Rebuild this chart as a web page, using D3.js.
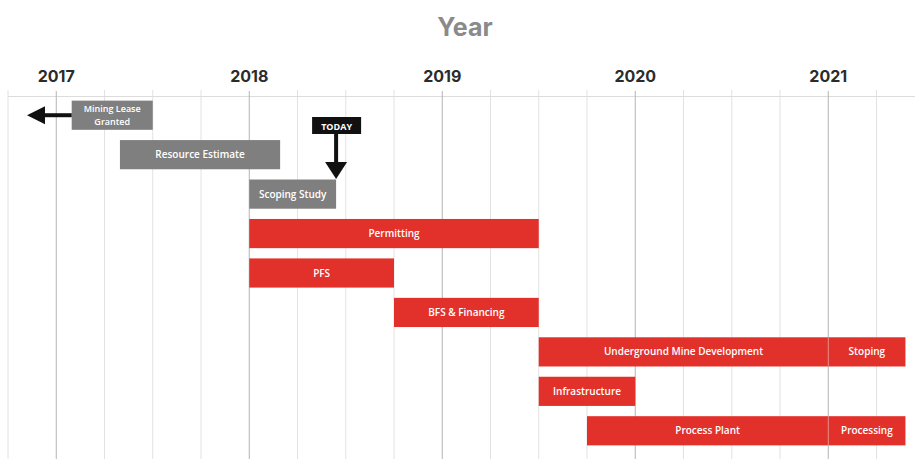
<!DOCTYPE html>
<html>
<head>
<meta charset="utf-8">
<script src="https://cdn.jsdelivr.net/npm/d3@7"></script>
<style>
  html, body { margin: 0; padding: 0; background: #fff; }
  svg { display: block; }
</style>
</head>
<body>
<script>
const width = 915
const height = 459

// data (decimal years)
const years = [2017, 2018, 2019, 2020, 2021]
const taskNames = [
  'Mining Lease Granted', 'Resource Estimate', 'Scoping Study', 'Permitting', 'PFS',
  'BFS & Financing', 'Underground Mine Development', 'Stoping', 'Infrastructure',
  'Process Plant', 'Processing'
]
const taskRows = [0, 1, 2, 3, 4, 5, 6, 6, 7, 8, 8]
const taskStarts = [2017.08, 2017.33, 2018.0, 2018.0, 2018.0, 2018.75, 2019.5, 2021.0, 2019.5, 2019.75, 2021.0]
const taskEnds = [2017.5, 2018.16, 2018.45, 2019.5, 2018.75, 2019.5, 2021.0, 2021.4, 2020.0, 2021.0, 2021.4]
const taskStatus = ['done', 'done', 'done', 'plan', 'plan', 'plan', 'plan', 'plan', 'plan', 'plan', 'plan']
const today = 2018.45

const colors = { done: '#7f7f7f', plan: '#e2312a' }

const tasks = taskNames.map(function (name, i) {
  return { name: name, row: taskRows[i], start: taskStarts[i], end: taskEnds[i], status: taskStatus[i] }
})

const x = d3.scaleLinear().domain([2016.75, 2021.45]).range([8, 915.1])
const y = d3.scaleBand()
  .domain(d3.range(9))
  .range([95.5, 450.5])
  .paddingInner(0.26)
  .paddingOuter(0.13)

const svg = d3.select('body').append('svg')
  .attr('width', width)
  .attr('height', height)

// title
svg.append('text')
  .attr('x', 465).attr('y', 36)
  .attr('text-anchor', 'middle')
  .attr('font-family', 'Inter, "Open Sans", sans-serif')
  .attr('font-weight', 700)
  .attr('font-size', 25)
  .attr('fill', '#8a8a8a')
  .text('Year')

// quarter grid lines
const quarters = d3.range(2016.75, 2021.3, 0.25)
svg.append('g').selectAll('line')
  .data(quarters.filter(function (q) { return Math.abs(q - Math.round(q)) > 0.01 }))
  .enter().append('line')
  .attr('x1', function (d) { return x(d) }).attr('x2', function (d) { return x(d) })
  .attr('y1', 90).attr('y2', height)
  .attr('stroke', '#e2e2e2')
  .attr('stroke-width', 1)

// top rule
svg.append('line')
  .attr('x1', 8).attr('x2', width)
  .attr('y1', 96.5).attr('y2', 96.5)
  .attr('stroke', '#dcdcdc')

// year lines + labels
svg.append('g').selectAll('line')
  .data(years)
  .enter().append('line')
  .attr('x1', function (d) { return x(d) }).attr('x2', function (d) { return x(d) })
  .attr('y1', 91).attr('y2', height)
  .attr('stroke', '#b4b4b4')
  .attr('stroke-width', 1)

svg.append('g').selectAll('text')
  .data(years)
  .enter().append('text')
  .attr('x', function (d) { return x(d) })
  .attr('y', 82)
  .attr('text-anchor', 'middle')
  .attr('font-family', 'Inter, "Open Sans", sans-serif')
  .attr('font-weight', 700)
  .attr('font-size', 16)
  .attr('fill', '#2b2b2b')
  .text(function (d) { return d })

// bars
const bars = svg.append('g')
bars.selectAll('rect')
  .data(tasks)
  .enter().append('rect')
  .attr('x', function (d) { return x(d.start) })
  .attr('y', function (d) { return y(d.row) })
  .attr('width', function (d) { return x(d.end) - x(d.start) })
  .attr('height', y.bandwidth())
  .attr('fill', function (d) { return colors[d.status] })

// faint seam where a bar continues into the next phase
bars.selectAll('line')
  .data(tasks.filter(function (d) { return d.name === 'Stoping' || d.name === 'Processing' }))
  .enter().append('line')
  .attr('x1', function (d) { return x(d.start) }).attr('x2', function (d) { return x(d.start) })
  .attr('y1', function (d) { return y(d.row) })
  .attr('y2', function (d) { return y(d.row) + y.bandwidth() })
  .attr('stroke', '#ffffff')
  .attr('stroke-opacity', 0.35)

bars.selectAll('text')
  .data(tasks)
  .enter().append('text')
  .attr('x', function (d) { return (x(d.start) + x(d.end)) / 2 })
  .attr('y', function (d) { return y(d.row) + y.bandwidth() / 2 + 3.5 })
  .attr('text-anchor', 'middle')
  .attr('font-family', '"Open Sans", sans-serif')
  .attr('font-weight', 600)
  .attr('font-size', 10)
  .attr('fill', '#ffffff')
  .each(function (d) {
    const t = d3.select(this)
    if (d.name === 'Mining Lease Granted') {
      // two-line label, a touch smaller so the lines stay clear of each other
      t.attr('y', y(d.row) + y.bandwidth() / 2 - 3)
        .attr('font-size', 9)
      t.append('tspan').attr('x', t.attr('x')).text('Mining Lease')
      t.append('tspan').attr('x', t.attr('x')).attr('dy', 12.5).text('Granted')
    } else {
      t.text(d.name)
    }
  })

// arrow pointing back from the lease grant
const lease = tasks[0]
const ly = y(lease.row) + y.bandwidth() / 2
svg.append('line')
  .attr('x1', x(lease.start)).attr('x2', 42)
  .attr('y1', ly).attr('y2', ly)
  .attr('stroke', '#111').attr('stroke-width', 4)
svg.append('path')
  .attr('d', d3.line()([[27, ly], [45, ly - 9], [45, ly + 9]]) + 'Z')
  .attr('fill', '#111')

// today marker
const tx = x(today)
svg.append('rect')
  .attr('x', tx - 24).attr('y', 117)
  .attr('width', 49).attr('height', 17)
  .attr('fill', '#111')
svg.append('text')
  .attr('x', tx + 0.5).attr('y', 129.5)
  .attr('text-anchor', 'middle')
  .attr('font-family', '"Open Sans", sans-serif')
  .attr('font-weight', 700)
  .attr('font-size', 9)
  .attr('fill', '#ffffff')
  .text('TODAY')
svg.append('line')
  .attr('x1', tx).attr('x2', tx)
  .attr('y1', 134).attr('y2', 165)
  .attr('stroke', '#111').attr('stroke-width', 4)
svg.append('path')
  .attr('d', d3.line()([[tx - 11, 162], [tx + 11, 162], [tx, 179]]) + 'Z')
  .attr('fill', '#111')
</script>
</body>
</html>
